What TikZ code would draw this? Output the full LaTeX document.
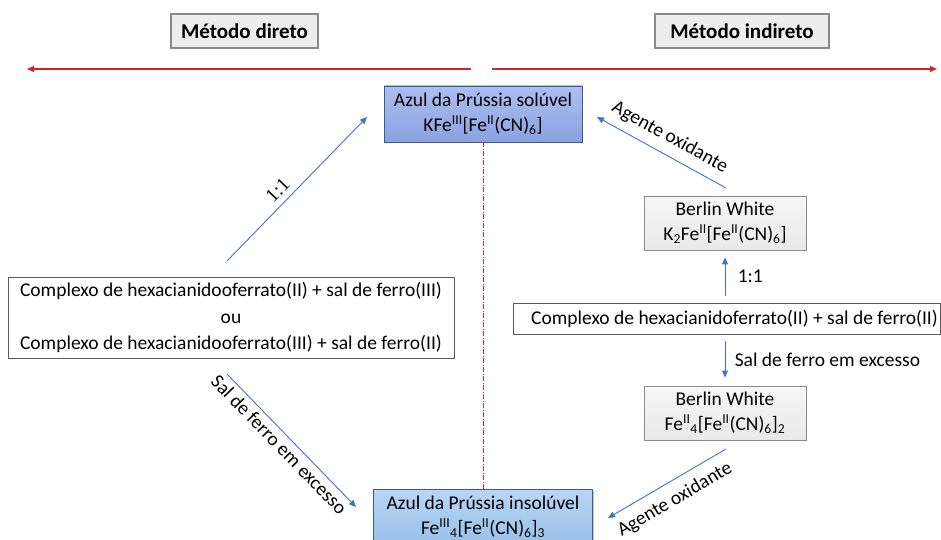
\documentclass[tikz,border=0pt]{standalone}
\usepackage{fontspec}
\setmainfont{Carlito}
\newfontfamily\serifnum{Liberation Serif}
\usetikzlibrary{arrows.meta,shadows}
\definecolor{arrblue}{HTML}{4472C4}
\definecolor{redline}{HTML}{D02525}
\definecolor{dashred}{HTML}{C83040}
\definecolor{hdrfill}{HTML}{EDEDED}
\definecolor{hdrborder}{HTML}{8A8A8A}
\definecolor{soltop}{HTML}{ADBFF0}
\definecolor{solbot}{HTML}{8AA2E0}
\definecolor{instop}{HTML}{B9D6F3}
\definecolor{insbot}{HTML}{98C0EA}
\definecolor{bluebdr}{HTML}{3F5A8F}
\definecolor{graytop}{HTML}{F7F7F7}
\definecolor{graybot}{HTML}{E8E8E8}
\definecolor{graybdr}{HTML}{8C8C8C}
\definecolor{boxbdr}{HTML}{5A5A5A}
\begin{document}
\begin{tikzpicture}[x=1pt,y=-1pt,
  txt/.style={font=\fontsize{19.5}{25}\selectfont},
  hdr/.style={draw=hdrborder, line width=1.3pt, fill=hdrfill,
    font=\fontsize{21}{25}\selectfont\bfseries, minimum height=34pt, inner sep=0pt},
  bluebox/.style={draw=bluebdr, line width=0.8pt, align=center, txt, inner sep=0pt,
    minimum height=56pt, drop shadow={shadow xshift=1pt, shadow yshift=-1.5pt, opacity=0.45}},
  graybox/.style={draw=graybdr, line width=0.8pt, top color=graytop, bottom color=graybot,
    align=center, txt, inner sep=0pt, minimum width=162pt, minimum height=54pt},
  plainbox/.style={draw=boxbdr, line width=0.8pt, fill=white, align=center, inner sep=0pt},
  arr/.style={draw=arrblue, line width=0.9pt, -{Triangle[length=7pt,width=6pt]}},
  redarr/.style={draw=redline, line width=1.1pt, -{Triangle[length=7pt,width=6pt]}},
  lbl/.style={txt, sloped},
]
\useasboundingbox (0,0) rectangle (941,540);

% headers
\node[hdr, minimum width=147pt] (hd) at (244.5,31) {Método direto};
\node[hdr, minimum width=174pt] (hi) at (742,31) {Método indireto};

% red arrows
\coordinate (rlS) at (471,69);
\coordinate (rlE) at (27,69);
\coordinate (rrS) at (492,69);
\coordinate (rrE) at (937,69);
\draw[redarr] (rlS) -- (rlE);
\draw[redarr] (rrS) -- (rrE);

% main boxes
\node[bluebox, top color=soltop, bottom color=solbot, minimum width=198pt] (sol) at (483,114)
  {Azul da Prússia solúvel\\KFe\textsuperscript{III}[Fe\textsuperscript{II}(CN)\textsubscript{6}]};
\node[bluebox, top color=instop, bottom color=insbot, minimum width=219pt] (ins) at (483,517)
  {Azul da Prússia insolúvel\\Fe\textsuperscript{III}\textsubscript{4}[Fe\textsuperscript{II}(CN)\textsubscript{6}]\textsubscript{3}};

\node[plainbox, font=\fontsize{19.5}{26.5}\selectfont, minimum width=446pt, minimum height=81pt] (lc) at (231,317.5)
  {Complexo de hexacianidooferrato(II) + sal de ferro(III)\\ou\\Complexo de hexacianidooferrato(III) + sal de ferro(II)};

\node[plainbox, txt, minimum width=427pt, minimum height=31pt] (rc) at (726.5,318.5)
  {\hspace*{16pt}Complexo de hexacianidoferrato(II) + sal de ferro(II)};

\node[graybox] (bw1) at (725,223)
  {Berlin White\\K\textsubscript{2}Fe\textsuperscript{II}[Fe\textsuperscript{II}(CN)\textsubscript{6}]};
\node[graybox] (bw2) at (725,413)
  {Berlin White\\Fe\textsuperscript{II}\textsubscript{4}[Fe\textsuperscript{II}(CN)\textsubscript{6}]\textsubscript{2}};

% dash-dot separator
\draw[dashred, line width=0.9pt, dash pattern=on 5pt off 1.5pt on 1pt off 1.5pt] (sol.south) -- (ins.north);

% left diagonal arrows
\coordinate (a1s) at (227,261);
\coordinate (a1e) at (367,117);
\draw[arr] (a1s) -- (a1e)
  node[sloped, pos=0.43, above=3pt, font=\serifnum\fontsize{19.5}{24}\selectfont] {1:1};
\coordinate (a2s) at (227,374);
\coordinate (a2e) at (356,507);
\draw[arr] (a2s) -- (a2e) node[lbl, pos=0.47, below=1pt] {Sal de ferro em excesso};

% right diagonal arrows
\coordinate (a3s) at (726,188);
\coordinate (a3e) at (597,117);
\draw[arr] (a3s) -- (a3e) node[lbl, pos=0.50, above=5pt] {Agente oxidante};
\coordinate (a4s) at (726,449);
\coordinate (a4e) at (608,518);
\draw[arr] (a4s) -- (a4e) node[lbl, pos=0.51, below=6pt] {Agente oxidante};

% right vertical arrows
\draw[arr, shorten <=7pt, shorten >=7pt] (bw1.south |- rc.north) -- (bw1.south)
  node[txt, pos=0.5, right, xshift=9pt] {1:1};
\draw[arr, shorten <=7pt, shorten >=8pt] (bw2.north |- rc.south) -- (bw2.north)
  node[txt, pos=0.5, right, xshift=6pt] {Sal de ferro em excesso};
\end{tikzpicture}
\end{document}
